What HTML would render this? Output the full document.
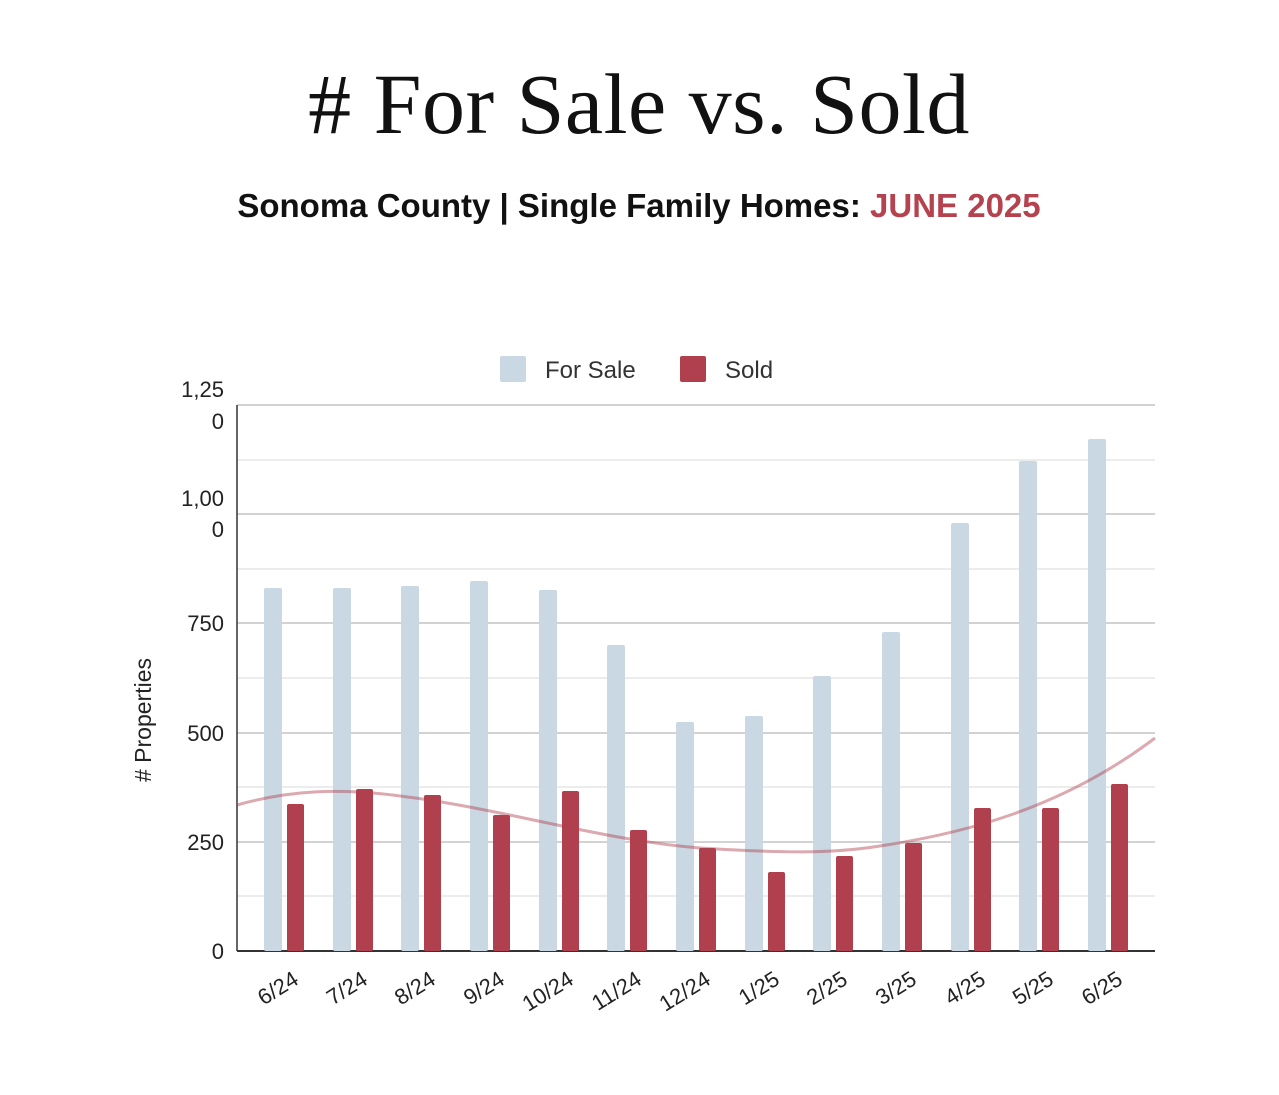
<!DOCTYPE html>
<html><head><meta charset="utf-8"><style>
body{margin:0;background:#fff;}
svg{display:block}
</style></head><body>
<svg width="1279" height="1095" xmlns="http://www.w3.org/2000/svg">
<rect width="1279" height="1095" fill="#fff"/>
<text x="639" y="133" text-anchor="middle" font-family="Liberation Serif, serif" font-size="86" fill="#111" letter-spacing="0.5"># For Sale vs. Sold</text>
<text x="639" y="217" text-anchor="middle" font-family="Liberation Sans, sans-serif" font-weight="bold" font-size="33" fill="#111">Sonoma County | Single Family Homes:  <tspan fill="#b5424f">JUNE 2025</tspan></text>
<!-- legend -->
<rect x="500" y="356" width="26" height="26" rx="2" fill="#c9d8e2"/>
<text x="545" y="378" font-family="Liberation Sans, sans-serif" font-size="24" fill="#333">For Sale</text>
<rect x="680" y="356" width="26" height="26" rx="2" fill="#b0404d"/>
<text x="725" y="378" font-family="Liberation Sans, sans-serif" font-size="24" fill="#333">Sold</text>
<!-- grid -->
<g stroke="#e6e6e6" stroke-width="1.5">
<line x1="237" x2="1155" y1="460" y2="460"/><line x1="237" x2="1155" y1="569" y2="569"/>
<line x1="237" x2="1155" y1="678" y2="678"/><line x1="237" x2="1155" y1="787" y2="787"/>
<line x1="237" x2="1155" y1="896" y2="896"/>
</g>
<g stroke="#c4c4c4" stroke-width="1.5">
<line x1="237" x2="1155" y1="405" y2="405"/><line x1="237" x2="1155" y1="514" y2="514"/>
<line x1="237" x2="1155" y1="623" y2="623"/><line x1="237" x2="1155" y1="733" y2="733"/>
<line x1="237" x2="1155" y1="842" y2="842"/>
</g>
<line x1="237" x2="237" y1="405" y2="951" stroke="#333" stroke-width="1.5"/>
<line x1="237" x2="1155" y1="951" y2="951" stroke="#333" stroke-width="2"/>
<!-- y labels -->
<g font-family="Liberation Sans, sans-serif" font-size="22" fill="#222" text-anchor="end">
<text x="224" y="397">1,25</text><text x="224" y="429">0</text>
<text x="224" y="506">1,00</text><text x="224" y="537">0</text>
<text x="224" y="631">750</text><text x="224" y="741">500</text>
<text x="224" y="850">250</text><text x="224" y="959">0</text>
</g>
<text transform="translate(151,720) rotate(-90)" text-anchor="middle" font-family="Liberation Sans, sans-serif" font-size="23" fill="#222"># Properties</text>
<!-- bars -->
<g fill="#c9d8e2">
<rect x="264" y="588" width="18" height="363" rx="2"/>
<rect x="333" y="588" width="18" height="363" rx="2"/>
<rect x="401" y="586" width="18" height="365" rx="2"/>
<rect x="470" y="581" width="18" height="370" rx="2"/>
<rect x="539" y="590" width="18" height="361" rx="2"/>
<rect x="607" y="645" width="18" height="306" rx="2"/>
<rect x="676" y="722" width="18" height="229" rx="2"/>
<rect x="745" y="716" width="18" height="235" rx="2"/>
<rect x="813" y="676" width="18" height="275" rx="2"/>
<rect x="882" y="632" width="18" height="319" rx="2"/>
<rect x="951" y="523" width="18" height="428" rx="2"/>
<rect x="1019" y="461" width="18" height="490" rx="2"/>
<rect x="1088" y="439" width="18" height="512" rx="2"/>
</g>
<g fill="#b0404d">
<rect x="287" y="804" width="17" height="147" rx="2"/>
<rect x="356" y="789" width="17" height="162" rx="2"/>
<rect x="424" y="795" width="17" height="156" rx="2"/>
<rect x="493" y="815" width="17" height="136" rx="2"/>
<rect x="562" y="791" width="17" height="160" rx="2"/>
<rect x="630" y="830" width="17" height="121" rx="2"/>
<rect x="699" y="848" width="17" height="103" rx="2"/>
<rect x="768" y="872" width="17" height="79" rx="2"/>
<rect x="836" y="856" width="17" height="95" rx="2"/>
<rect x="905" y="843" width="17" height="108" rx="2"/>
<rect x="974" y="808" width="17" height="143" rx="2"/>
<rect x="1042" y="808" width="17" height="143" rx="2"/>
<rect x="1111" y="784" width="17" height="167" rx="2"/>
</g>
<path d="M237,805 C290,790 340,788 400,796 C500,808 600,840 700,848 C780,853 830,854 880,846 C960,834 1060,810 1155,738" fill="none" stroke="#b0404d" stroke-opacity="0.45" stroke-width="3"/>
<!-- x labels -->
<g font-family="Liberation Sans, sans-serif" font-size="22" fill="#222" text-anchor="end">
<text transform="translate(300,983) rotate(-32)">6/24</text>
<text transform="translate(369,983) rotate(-32)">7/24</text>
<text transform="translate(437,983) rotate(-32)">8/24</text>
<text transform="translate(506,983) rotate(-32)">9/24</text>
<text transform="translate(575,983) rotate(-32)">10/24</text>
<text transform="translate(643,983) rotate(-32)">11/24</text>
<text transform="translate(712,983) rotate(-32)">12/24</text>
<text transform="translate(781,983) rotate(-32)">1/25</text>
<text transform="translate(849,983) rotate(-32)">2/25</text>
<text transform="translate(918,983) rotate(-32)">3/25</text>
<text transform="translate(987,983) rotate(-32)">4/25</text>
<text transform="translate(1055,983) rotate(-32)">5/25</text>
<text transform="translate(1124,983) rotate(-32)">6/25</text>
</g>
</svg>
</body></html>
